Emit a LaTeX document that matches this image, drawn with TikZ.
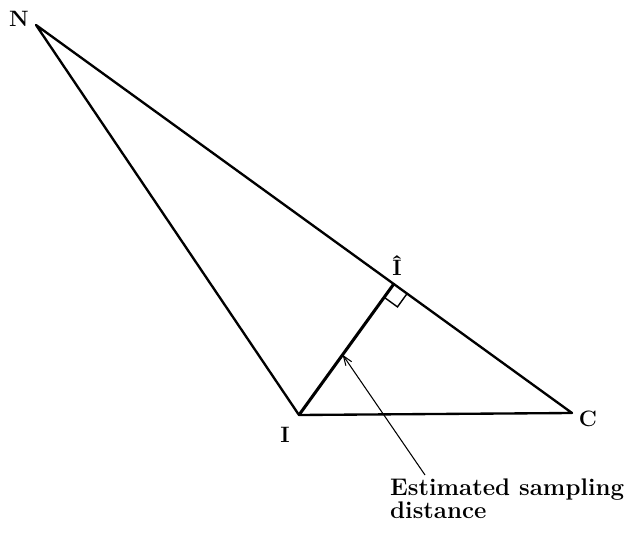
\documentclass[tikz,border=0pt]{standalone}
\usetikzlibrary{arrows.meta,calc}
\begin{document}
\begin{tikzpicture}[x=0.03cm,y=-0.03cm,
  side/.style={line width=2pt,line join=round},
  vlabel/.style={font=\fontsize{19}{22}\selectfont\bfseries},
  note/.style={font=\fontsize{20.5}{19.5}\selectfont\bfseries,align=left,anchor=north west,inner sep=0pt}]
  \useasboundingbox (0,0) rectangle (634,534);
  % vertices
  \coordinate (N) at (36,25);
  \coordinate (I) at (299,415);
  \coordinate (C) at (572,413);
  \coordinate (F) at ($(N)!(I)!(C)$);
  % triangle and sampling distance
  \draw[side] (N) -- (C) -- (I) -- cycle;
  \draw[line width=2.6pt] (I) -- (F);
  % right-angle mark
  \draw[line width=1.2pt] ($(F)!14pt!(I)$) -- ($(F)!14pt!(I)!14pt!90:(I)$) -- ($(F)!14pt!(C)$);
  % labels
  \node[vlabel] (Nlab) at (19,19) {N};
  \node[vlabel] (Ilab) at (285,435) {I};
  \node[vlabel] (Flab) at (397,266) {Î};
  \node[vlabel] (Clab) at (588,419) {C};
  \node[note] (est) at (390,479) {Estimated sampling\\distance};
  \coordinate (tail) at (425,475);
  \draw[line width=0.9pt,-{Straight Barb[length=8pt,width=6pt]}] (tail) -- ($(I)!0.46!(F)$);
\end{tikzpicture}
\end{document}
